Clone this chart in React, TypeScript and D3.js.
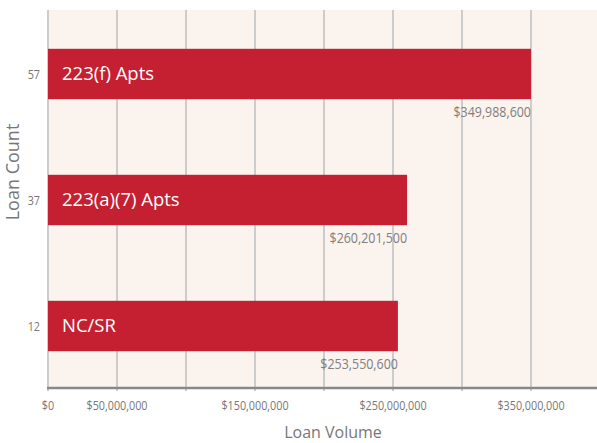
import { useEffect, useRef } from 'react';
import * as d3 from 'd3';

const categories = ['223(f) Apts', '223(a)(7) Apts', 'NC/SR'];
const loanCounts = [57, 37, 12];
const loanVolumes = [349988600, 260201500, 253550600];
const xTickValues = [0, 50000000, 100000000, 150000000, 200000000, 250000000, 300000000, 350000000];
const xTickLabels = ['$0', '$50,000,000', '', '$150,000,000', '', '$250,000,000', '', '$350,000,000'];

const App: React.FC = () => {
  const chartRef = useRef<SVGSVGElement | null>(null);

  useEffect(() => {
    if (!chartRef.current) return;
    const svg = d3.select(chartRef.current);
    svg.selectAll('*').remove();

    const W = 597;
    const H = 443;
    const margin = { top: 10, right: 0, bottom: 55, left: 48 };
    const plotBottom = H - margin.bottom;

    const x = d3.scaleLinear()
      .domain([0, 400000000])
      .range([margin.left, 600]);

    const y = d3.scaleBand<string>()
      .domain(categories)
      .range([margin.top + 1, plotBottom + 1])
      .paddingInner(0.6)
      .paddingOuter(0.3);

    // no condensed font installed, so squeeze horizontally
    const narrow = '"Open Sans", sans-serif';
    const squeeze = 0.83;

    // plot background
    svg.append('rect')
      .attr('x', margin.left)
      .attr('y', margin.top)
      .attr('width', W - margin.left)
      .attr('height', plotBottom - margin.top)
      .attr('fill', '#fbf3ee');

    // vertical gridlines
    svg.append('g')
      .selectAll('line')
      .data(xTickValues)
      .enter().append('line')
      .attr('x1', d => x(d))
      .attr('x2', d => x(d))
      .attr('y1', margin.top)
      .attr('y2', plotBottom + 3)
      .attr('stroke', '#cccccc')
      .attr('stroke-width', 2);

    // bars
    svg.append('g')
      .selectAll('rect')
      .data(categories)
      .enter().append('rect')
      .attr('x', x(0))
      .attr('y', d => y(d)!)
      .attr('width', (_, i) => x(loanVolumes[i]) - x(0))
      .attr('height', y.bandwidth())
      .attr('fill', '#c42032');

    // bar category labels
    svg.append('g')
      .selectAll('text')
      .data(categories)
      .enter().append('text')
      .attr('x', x(0) + 14)
      .attr('y', d => y(d)! + y.bandwidth() / 2 + 6)
      .attr('fill', '#ffffff')
      .style('font-family', '"Open Sans", sans-serif')
      .style('font-size', '18.5px')
      .text(d => d);

    // value labels
    svg.append('g')
      .selectAll('text')
      .data(categories)
      .enter().append('text')
      .attr('transform', (d, i) => `translate(${x(loanVolumes[i])},${y(d)! + y.bandwidth() + 18}) scale(${squeeze},1)`)
      .attr('text-anchor', 'end')
      .attr('fill', '#808080')
      .style('font-family', narrow)
      .style('font-size', '15px')
      .text((_, i) => d3.format('$,')(loanVolumes[i]));

    // loan count labels
    svg.append('g')
      .selectAll('text')
      .data(categories)
      .enter().append('text')
      .attr('transform', d => `translate(${margin.left - 8},${y(d)! + y.bandwidth() / 2 + 5}) scale(${squeeze},1)`)
      .attr('text-anchor', 'end')
      .attr('fill', '#777777')
      .style('font-family', narrow)
      .style('font-size', '13px')
      .text((_, i) => loanCounts[i]);

    // x axis line
    svg.append('line')
      .attr('x1', margin.left - 1)
      .attr('x2', W)
      .attr('y1', plotBottom)
      .attr('y2', plotBottom)
      .attr('stroke', '#888888')
      .attr('stroke-width', 2.5);

    // x tick labels
    svg.append('g')
      .selectAll('text')
      .data(xTickValues)
      .enter().append('text')
      .attr('transform', d => `translate(${x(d)},${plotBottom + 22}) scale(${squeeze},1)`)
      .attr('text-anchor', 'middle')
      .attr('fill', '#777777')
      .style('font-family', narrow)
      .style('font-size', '13px')
      .text((_, i) => xTickLabels[i]);

    // axis titles
    svg.append('text')
      .attr('x', 333)
      .attr('y', H - 5)
      .attr('text-anchor', 'middle')
      .attr('fill', '#777777')
      .style('font-family', '"Open Sans", sans-serif')
      .style('font-size', '16px')
      .text('Loan Volume');

    svg.append('text')
      .attr('transform', `translate(19,172) rotate(-90)`)
      .attr('text-anchor', 'middle')
      .attr('fill', '#777777')
      .style('font-family', '"Open Sans", sans-serif')
      .style('font-size', '18px')
      .text('Loan Count');
  }, []);

  return (
    <svg
      ref={chartRef}
      width={597}
      height={443}
      style={{ position: 'absolute', left: 0, top: 0, background: '#ffffff' }}
    ></svg>
  );
};

export default App;
